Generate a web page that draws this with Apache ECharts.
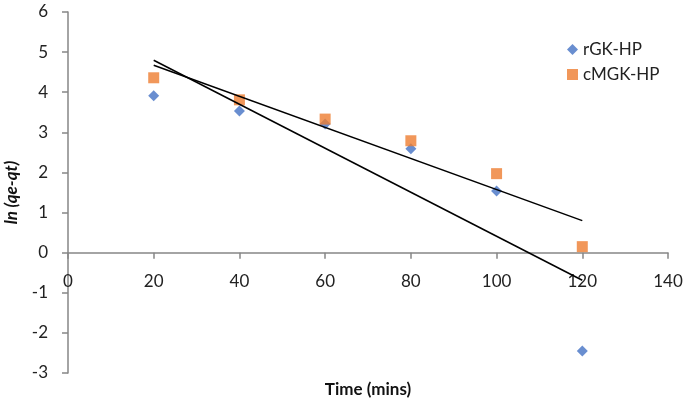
<!DOCTYPE html>
<html><head><meta charset="utf-8">
<script src="https://cdn.jsdelivr.net/npm/echarts@6/dist/echarts.min.js"></script>
<style>html,body{margin:0;padding:0;background:#fff}#c{width:685px;height:406px}</style>
</head><body><div id="c"></div>
<script>
const times = [20, 40, 60, 80, 100, 120];
const rGK = [3.91, 3.53, 3.21, 2.59, 1.54, -2.45];
const cMGK = [4.36, 3.81, 3.33, 2.79, 1.97, 0.15];
const xTicks = [0, 20, 40, 60, 80, 100, 120, 140];
const yTicks = [-3, -2, -1, 0, 1, 2, 3, 4, 5, 6];

function fit(xs, ys) {
  const n = xs.length;
  const mx = xs.reduce((a, b) => a + b, 0) / n;
  const my = ys.reduce((a, b) => a + b, 0) / n;
  let sxy = 0, sxx = 0;
  for (let i = 0; i < n; i++) { sxy += (xs[i] - mx) * (ys[i] - my); sxx += (xs[i] - mx) ** 2; }
  const b = sxy / sxx, a = my - b * mx;
  const x0 = xs[0], x1 = xs[n - 1];
  return [[x0, a + b * x0], [x1, a + b * x1]];
}

const font = 'Lato, "Open Sans", sans-serif';
const axisColor = '#868686';
const H = 406, gridTop = 12, gridBottom = 33;
const gridH = H - gridTop - gridBottom;
const yMin = yTicks[0], yMax = yTicks[yTicks.length - 1];
const zeroOffset = -((0 - yMin) / (yMax - yMin)) * gridH;

const chart = echarts.init(document.getElementById('c'), null, {renderer: 'canvas'});
chart.setOption({
  animation: false,
  textStyle: {fontFamily: font},
  grid: {left: 68, right: 17, top: gridTop, bottom: gridBottom, outerBoundsMode: 'none', containLabel: false},
  legend: {
    orient: 'vertical', left: 562, top: 36, itemGap: 8, itemWidth: 11, itemHeight: 11,
    data: [{name: 'rGK-HP', icon: 'diamond'}, {name: 'cMGK-HP', icon: 'rect'}],
    textStyle: {fontFamily: font, fontSize: 17, color: '#222'}
  },
  xAxis: {
    type: 'value', min: xTicks[0], max: xTicks[xTicks.length - 1], interval: 20,
    offset: zeroOffset,
    name: 'Time (mins)', nameLocation: 'middle', nameGap: 128,
    nameTextStyle: {fontFamily: font, fontSize: 17, fontWeight: 'bold', color: '#111'},
    axisLine: {onZero: false, lineStyle: {color: axisColor, width: 1.5}},
    axisTick: {show: true, length: 6, lineStyle: {color: axisColor, width: 1.5}},
    axisLabel: {margin: 20, fontFamily: font, fontSize: 17, color: '#222'},
    splitLine: {show: false}
  },
  yAxis: {
    type: 'value', min: yMin, max: yMax, interval: 1,
    name: 'ln (qe-qt)', nameLocation: 'middle', nameGap: 48, nameRotate: 90,
    nameTextStyle: {fontFamily: font, fontSize: 17, fontWeight: 'bold', fontStyle: 'italic', color: '#111'},
    axisLine: {show: true, onZero: false, lineStyle: {color: axisColor, width: 1.5}},
    axisTick: {show: true, length: 6, lineStyle: {color: axisColor, width: 1.5}},
    axisLabel: {margin: 20, fontFamily: font, fontSize: 17, color: '#222'},
    splitLine: {show: false}
  },
  series: [
    {name: 'rGK-HP', type: 'scatter', symbol: 'diamond', symbolSize: 11, z: 3,
     itemStyle: {color: '#4472C4'}, data: times.map((t, i) => [t, rGK[i]])},
    {name: 'cMGK-HP', type: 'scatter', symbol: 'rect', symbolSize: 11, z: 3,
     itemStyle: {color: '#ED7D31'}, data: times.map((t, i) => [t, cMGK[i]])},
    {name: 'rGK trend', type: 'line', showSymbol: false, symbol: 'none', z: 4,
     lineStyle: {color: '#000', width: 1.5}, data: fit(times, rGK)},
    {name: 'cMGK trend', type: 'line', showSymbol: false, symbol: 'none', z: 4,
     lineStyle: {color: '#000', width: 1.5}, data: fit(times, cMGK)}
  ]
});
</script></body></html>
